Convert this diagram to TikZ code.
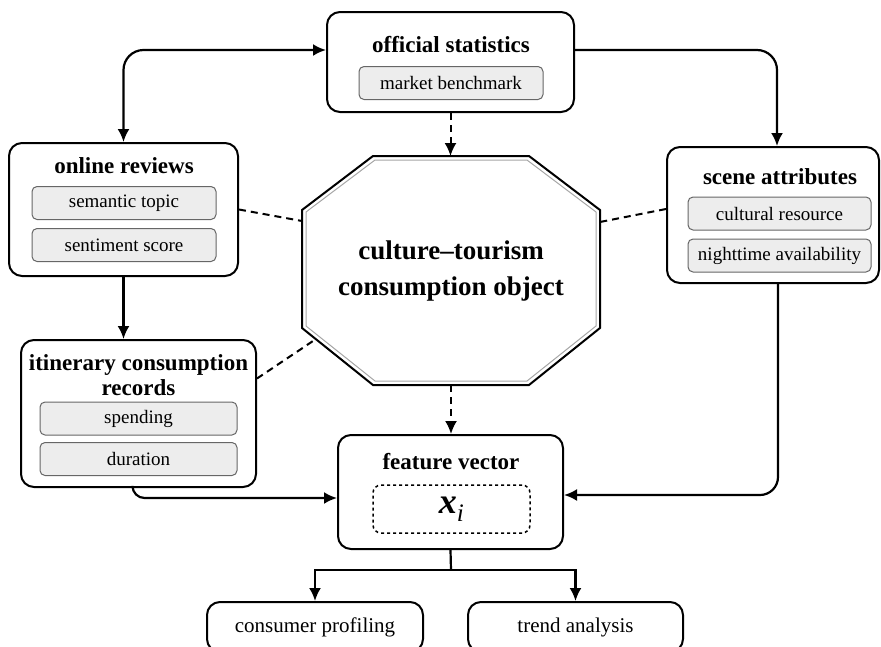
\documentclass[tikz,border=0pt]{standalone}
\usepackage{fontspec}
\setmainfont{Liberation Serif}
\usetikzlibrary{arrows.meta}

\begin{document}
\begin{tikzpicture}[x=1pt,y=-1pt,>={Latex[length=13pt,width=12pt]},
  box/.style={draw,line width=2pt,rounded corners=13pt,inner sep=0pt},
  item/.style={draw=black!60,line width=1pt,fill=black!7,rounded corners=5pt,minimum height=33pt,inner sep=0pt,font=\fontsize{19}{22}\selectfont},
  head/.style={font=\fontsize{23}{25}\selectfont\bfseries,align=center},
  link/.style={->,line width=2.2pt},
  dotlink/.style={->,line width=2pt,dash pattern=on 7pt off 5pt},
  tie/.style={line width=2pt,dash pattern=on 7pt off 5pt}]
  \useasboundingbox (0,0) rectangle (881,646);

  \node[box,minimum width=247pt,minimum height=100pt] (stat) at (450.5,62) {};
  \node[head] (stat-t) at (451,45) {official statistics};
  \node[item,minimum width=184pt] (stat-a) at (451,83) {market benchmark};

  \node[box,minimum width=229pt,minimum height=133pt] (rev) at (123.5,209.5) {};
  \node[head] (rev-t) at (124,166) {online reviews};
  \node[item,minimum width=184pt] (rev-a) at (124,203) {semantic topic};
  \node[item,minimum width=184pt] (rev-b) at (124,245) {sentiment score};

  \node[box,minimum width=235pt,minimum height=147pt] (iti) at (138.5,413.5) {};
  \node[head] (iti-t) at (138.5,375) {itinerary consumption\\records};
  \node[item,minimum width=197pt] (iti-a) at (138.5,418.5) {spending};
  \node[item,minimum width=197pt] (iti-b) at (138.5,459) {duration};

  \node[box,minimum width=212pt,minimum height=136pt] (scn) at (773,215) {};
  \node[head] (scn-t) at (780,177) {scene attributes};
  \node[item,minimum width=183pt] (scn-a) at (779.5,213.5) {cultural resource};
  \node[item,minimum width=183pt] (scn-b) at (779.5,255.5) {nighttime availability};

  \draw[line width=2pt] (373,156) -- (529,156) -- (600,210) -- (600,328)
    -- (529,385) -- (373,385) -- (302,328) -- (302,210) -- cycle;
  \draw[black!35,line width=1pt] (375,160) -- (527,160) -- (596,212) -- (596,326)
    -- (527,381) -- (375,381) -- (306,326) -- (306,212) -- cycle;
  \coordinate (oct-n) at (451,156);
  \coordinate (oct-s) at (451,385);
  \coordinate (oct-w) at (302,221);
  \coordinate (oct-e) at (600,222);
  \coordinate (oct-l) at (316,339);
  \node[font=\fontsize{27}{36}\selectfont\bfseries,align=center] (obj) at (451,271)
    {culture–tourism\\consumption object};

  \node[box,minimum width=225pt,minimum height=114pt] (feat) at (450.5,492) {};
  \node[head] (feat-t) at (451,462) {feature vector};
  \node[draw,dashed,line width=1.5pt,rounded corners=8pt,minimum width=157pt,minimum height=48pt,
    font=\fontsize{36}{36}\selectfont] (vec) at (451.5,509) {\textbf{\textit{x}}\textit{\textsubscript{i}}};

  \node[box,minimum width=216pt,minimum height=50pt,font=\fontsize{21}{24}\selectfont] (prof) at (315,627) {consumer profiling};
  \node[box,minimum width=215pt,minimum height=50pt,font=\fontsize{21}{24}\selectfont] (trend) at (575.5,627) {trend analysis};

  \draw[link,<->,rounded corners=20pt] (rev.north) |- ([yshift=12pt]stat.west);
  \draw[link,rounded corners=20pt] ([yshift=12pt]stat.east) -| ([xshift=4pt]scn.north);
  \draw[dotlink] (stat.south) -- (stat.south |- oct-n);
  \draw[link] (rev.south) -- (rev.south |- iti.north);
  \draw[tie] (rev.east) -- (oct-w);
  \draw[tie] ([yshift=6pt]scn.west) -- (oct-e);
  \draw[tie] ([yshift=35pt]iti.east) -- (oct-l);
  \draw[dotlink] (oct-s) -- (oct-s |- feat.north);
  \draw[link,rounded corners=12pt] ([xshift=-6pt]iti.south) |- ([yshift=-6pt]feat.west);
  \draw[link,rounded corners=18pt] ([xshift=5pt]scn.south) |- ([yshift=-3pt]feat.east);
  \coordinate (split) at (451,570);
  \draw[line width=2.2pt] (feat.south) -- (split);
  \draw[link] (split) -| (prof.north);
  \draw[link] (split) -| (trend.north);
\end{tikzpicture}
\end{document}
